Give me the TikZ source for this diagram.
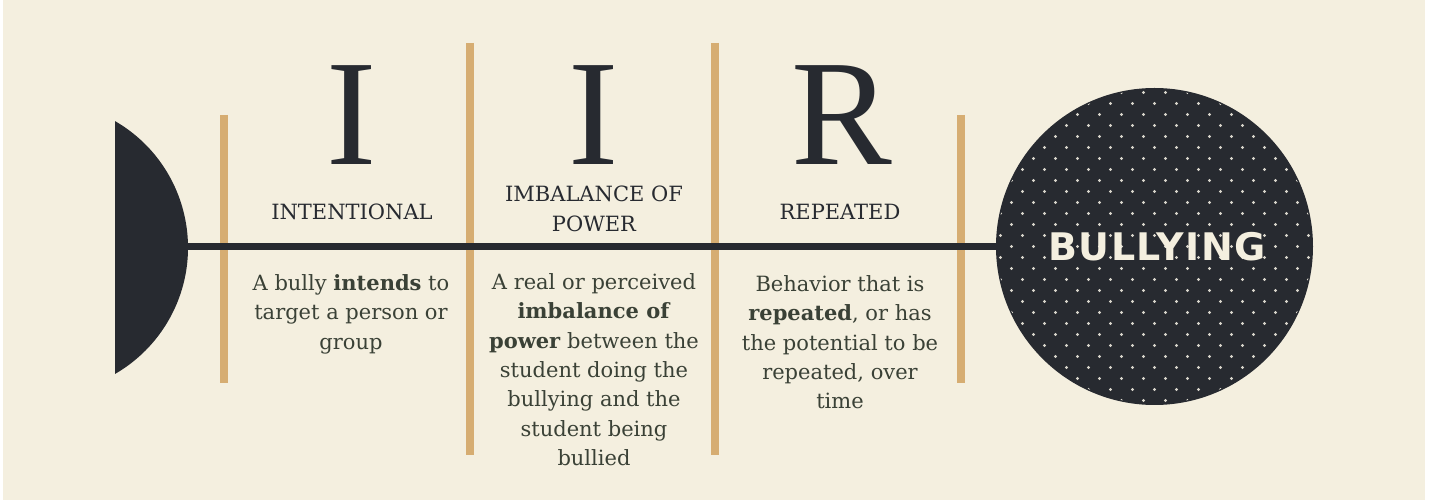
\documentclass[tikz,border=0pt]{standalone}
\usepackage{fontspec}
\setmainfont{DejaVu Serif}
\newfontfamily\letterfont{Liberation Serif}
\newfontfamily\bannerfont{DejaVu Sans}[LetterSpace=4]
\usetikzlibrary{positioning}

\definecolor{cream}{HTML}{F4EFDF}
\definecolor{ink}{HTML}{272A30}
\definecolor{tan}{HTML}{D6AD72}
\definecolor{bodytext}{HTML}{3A4136}
\definecolor{dotgrey}{HTML}{D9D6CC}

\tikzset{
	bar/.style={draw=tan, line width=4pt},
	bigletter/.style={font=\letterfont\fontsize{75.5}{75.5}\selectfont, text=ink, anchor=base, inner sep=0pt},
	heading/.style={font=\fontsize{10.5}{15}\selectfont, text=ink, align=center, anchor=base, inner sep=0pt},
	blurb/.style={font=\fontsize{10.5}{14.7}\selectfont, text=bodytext, align=center, anchor=north, inner sep=0pt}
}

\begin{document}
\begin{tikzpicture}[x=0.5pt, y=-0.5pt]
	% Page and background
	\useasboundingbox (0,0) rectangle (1432,502);
	\fill[white] (0,0) rectangle (1432,502);
	\fill[cream] (3,0) rectangle (1425,500);

	% Tan bars
	\draw[bar] (224,115) -- (224,383);
	\draw[bar] (470,43) -- (470,455);
	\draw[bar] (715,43) -- (715,455);
	\draw[bar] (961,115) -- (961,383);

	% Half disc on the left
	\fill[ink] (115,121.1) arc[start angle=-60, end angle=60, radius=146] -- cycle;
	\coordinate (stem) at (188,246.5);

	% Circle on the right
	\node (bully) [circle, fill=ink, minimum size=158.5pt, inner sep=0pt] at (1154.5,246.5) {};
	%Dots
	\begin{scope}
		\clip (bully.center) circle[radius=157];
		\foreach \i in {-15,...,15}
			\foreach \j in {-15,...,15}{
				\pgfmathtruncatemacro\dotparity{mod(\i+\j+30,2)}
				\ifnum\dotparity=1
					\fill[dotgrey, shift={(bully.center)}] (11*\i,11*\j) circle[radius=1.6];
				\fi
			}
	\end{scope}
	\node[font=\bannerfont\bfseries\fontsize{19}{19}\selectfont, text=cream, inner sep=0pt] (bullytext) at (1157,246.5) {BULLYING};

	% Spine
	\draw[ink, line width=3.5pt] (stem) -- (bully.west);

	% Big letters
	\node[bigletter] (letI) at (352,165) {I};
	\node[bigletter] (letII) at (594,165) {I};
	\node[bigletter] (letR) at (842,165) {R};

	% Headings
	\node[heading] (intent) at (352,220) {INTENTIONAL};
	% base sits on the last line here
	\node[heading] (power) at (594,232) {IMBALANCE OF\\POWER};
	\node[heading] (repeat) at (840,220) {REPEATED};

	% Descriptions
	\node[blurb] (intentdesc) at (351,274) {A bully \textbf{intends} to\\target a person or\\group};
	\node[blurb] (powerdesc) at (594,273) {A real or perceived\\\textbf{imbalance of}\\\textbf{power} between the\\student doing the\\bullying and the\\student being\\bullied};
	\node[blurb] (repeatdesc) at (840,275) {Behavior that is\\\textbf{repeated}, or has\\the potential to be\\repeated, over\\time};
\end{tikzpicture}
\end{document}
